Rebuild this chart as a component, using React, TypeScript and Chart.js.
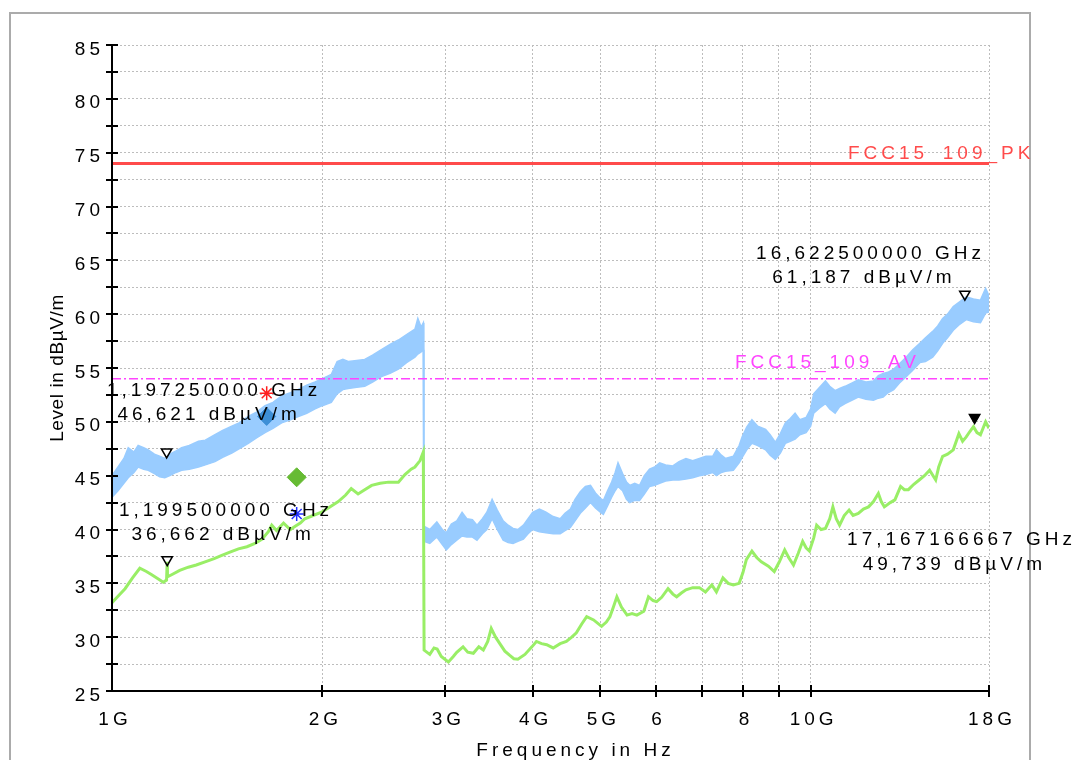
import React, { useEffect, useRef } from 'react';
import { Chart, registerables } from 'chart.js';

Chart.register(...registerables);

// ---------- axis ticks ----------
const xTickValues = [1, 2, 3, 4, 5, 6, 7, 8, 9, 10, 18];
const xTickLabels = ['1G', '2G', '3G', '4G', '5G', '6', '', '8', '', '10G', '18G'];
const yTickLabelValues = [25, 30, 35, 40, 45, 50, 55, 60, 65, 70, 75, 80, 85];

// ---------- peak trace (band: upper / lower envelope), GHz / dBµV/m ----------
const peakFreq = [
  1.0, 1.02, 1.04, 1.055, 1.075, 1.09, 1.11, 1.127, 1.15, 1.17, 1.19, 1.21, 1.235, 1.258, 1.29, 1.33, 1.36, 1.404,
  1.44, 1.484, 1.52, 1.567, 1.61, 1.656, 1.7, 1.749, 1.8, 1.848, 1.9, 1.953, 2.0, 2.06, 2.1, 2.14, 2.178, 2.24, 2.3,
  2.36, 2.43, 2.5, 2.57, 2.64, 2.714, 2.74, 2.77, 2.79, 2.795, 2.85, 2.917, 2.97, 3.01, 3.06, 3.115, 3.17, 3.22, 3.28,
  3.33, 3.39, 3.44, 3.5, 3.56, 3.63, 3.69, 3.75, 3.81, 3.88, 3.94, 4.0, 4.09, 4.18, 4.28, 4.38, 4.45, 4.53, 4.6, 4.68,
  4.76, 4.84, 4.92, 5.0, 5.05, 5.12, 5.19, 5.25, 5.3, 5.38, 5.45, 5.51, 5.6, 5.69, 5.78, 5.88, 5.98, 6.08, 6.2, 6.35,
  6.48, 6.63, 6.78, 6.93, 7.08, 7.24, 7.33, 7.45, 7.55, 7.75, 7.9, 7.98, 8.1, 8.24, 8.4, 8.62, 8.75, 8.9, 9.05, 9.2,
  9.35, 9.5, 9.65, 9.85, 10.0, 10.1, 10.3, 10.5, 10.65, 10.84, 11.0, 11.2, 11.45, 11.7, 12.0, 12.3, 12.5, 12.7, 12.9,
  13.15, 13.4, 13.7, 14.0, 14.33, 14.6, 14.95, 15.2, 15.45, 15.7, 16.0, 16.3, 16.7, 17.1, 17.5, 17.8, 18.0,
];
const peakHigh = [
  45.0, 45.8, 46.6, 47.6, 47.2, 47.8, 47.6, 47.4, 47.0, 46.8, 46.6, 47.0, 47.3, 47.6, 47.8, 48.2, 48.3, 48.8,
  49.2, 49.6, 49.9, 50.5, 50.9, 51.5, 51.8, 52.4, 52.7, 53.0, 53.4, 53.7, 54.0, 54.4, 55.6, 55.8, 55.6, 55.7, 55.8,
  56.2, 56.7, 57.2, 57.6, 58.1, 58.6, 59.6, 58.8, 59.2, 40.3, 40.0, 40.7, 40.0, 39.7, 40.5, 40.8, 41.6, 41.0, 40.9,
  40.4, 41.0, 41.6, 42.8, 41.8, 40.8, 40.4, 40.1, 40.0, 40.4, 41.0, 41.6, 41.9, 41.6, 41.2, 41.0, 41.5, 41.9, 42.8, 43.5,
  44.0, 44.1, 43.4, 42.9, 42.7, 43.6, 44.4, 45.3, 46.2, 45.2, 44.4, 44.1, 44.3, 44.1, 45.0, 45.6, 45.8, 46.2, 46.0, 45.9,
  46.3, 46.6, 46.4, 46.6, 46.8, 46.8, 47.4, 46.9, 46.6, 46.8, 47.8, 48.6, 49.5, 50.2, 49.6, 49.3, 48.8, 48.1, 48.9, 49.9,
  50.3, 50.8, 50.2, 50.4, 51.2, 52.6, 53.2, 53.8, 53.3, 52.9, 53.1, 53.3, 53.6, 53.9, 53.7, 53.8, 54.3, 54.5, 54.6,
  54.9, 55.4, 56.0, 56.7, 57.3, 57.8, 58.4, 58.9, 59.6, 60.0, 60.7, 61.1, 61.6, 61.4, 61.3, 62.4, 61.7,
];
const peakLow = [
  43.0, 43.6, 44.3, 44.8, 45.3, 45.8, 45.6, 45.5, 45.2, 44.9, 44.8, 45.0, 45.3, 45.5, 45.6, 45.8, 46.0, 46.3,
  46.7, 47.1, 47.5, 48.0, 48.5, 49.0, 49.4, 49.9, 50.2, 50.5, 50.8, 51.2, 51.5, 51.8, 52.6, 53.0, 53.1, 53.2, 53.3,
  53.7, 54.2, 54.5, 54.9, 55.5, 56.0, 56.3, 56.5, 56.7, 38.9, 38.7, 39.3, 38.6, 38.1, 38.6, 39.0, 39.4, 39.3, 39.3,
  39.0, 39.6, 40.0, 41.0, 40.0, 39.0, 38.8, 38.7, 38.9, 39.1, 39.6, 40.0, 39.8, 39.7, 39.6, 39.6, 39.9, 40.2, 40.8, 41.5,
  42.0, 42.5, 42.0, 41.6, 41.4, 42.2, 43.0, 43.6, 44.0, 43.6, 42.8, 42.5, 42.7, 42.7, 43.3, 44.0, 44.1, 44.3, 44.5, 44.6,
  44.6, 44.7, 44.8, 45.0, 45.1, 45.3, 45.0, 45.3, 45.4, 45.5, 46.2, 46.7, 47.4, 48.0, 47.8, 47.4, 46.9, 46.5, 47.1, 48.0,
  48.2, 48.4, 48.8, 49.0, 49.6, 50.8, 51.3, 51.7, 51.2, 50.8, 51.4, 51.7, 52.0, 52.3, 52.1, 52.0, 52.2, 52.3, 52.7,
  53.0, 53.6, 54.2, 54.8, 55.5, 55.6, 56.0, 56.6, 57.3, 57.8, 58.5, 59.0, 59.5, 59.3, 59.2, 60.1, 60.2,
];

// ---------- average trace ----------
const avgFreq = [
  1.0, 1.02, 1.044, 1.07, 1.096, 1.12, 1.14, 1.165, 1.184, 1.197, 1.1995, 1.2005, 1.217, 1.25, 1.286, 1.32, 1.359,
  1.4, 1.436, 1.475, 1.517, 1.56, 1.602, 1.64, 1.674, 1.693, 1.72, 1.76, 1.8, 1.829, 1.86, 1.888, 1.94, 1.995, 2.05,
  2.108, 2.16, 2.2, 2.25, 2.3, 2.353, 2.42, 2.487, 2.57, 2.626, 2.68, 2.714, 2.76, 2.79, 2.797, 2.85, 2.89, 2.92, 2.96,
  3.03, 3.08, 3.115, 3.18, 3.23, 3.29, 3.35, 3.4, 3.45, 3.49, 3.54, 3.59, 3.65, 3.71, 3.76, 3.81, 3.9, 3.99, 4.05,
  4.12, 4.19, 4.28, 4.38, 4.47, 4.55, 4.62, 4.7, 4.78, 4.89, 5.02, 5.1, 5.16, 5.22, 5.28, 5.36, 5.46, 5.55, 5.64, 5.77,
  5.86, 5.95, 6.02, 6.12, 6.25, 6.35, 6.43, 6.53, 6.63, 6.78, 6.93, 7.07, 7.22, 7.33, 7.49, 7.62, 7.75, 7.9, 8.0, 8.09,
  8.24, 8.37, 8.5, 8.7, 8.87, 9.02, 9.18, 9.3, 9.45, 9.6, 9.74, 9.85, 9.96, 10.1, 10.2, 10.35, 10.5, 10.65, 10.76,
  10.88, 11.0, 11.17, 11.35, 11.5, 11.7, 11.9, 12.1, 12.3, 12.5, 12.62, 12.75, 13.0, 13.2, 13.45, 13.62, 13.8, 14.05,
  14.3, 14.55, 14.8, 15.1, 15.25, 15.45, 15.7, 16.0, 16.3, 16.5, 16.7, 16.9, 17.1, 17.3, 17.5, 17.65, 17.8, 18.0,
];
const avgLevel = [
  33.2, 33.8, 34.5, 35.5, 36.4, 36.1, 35.8, 35.4, 35.1, 35.3, 37.0, 35.6, 35.8, 36.2, 36.5, 36.7, 37.0,
  37.3, 37.6, 37.9, 38.2, 38.4, 38.7, 39.1, 39.8, 40.4, 39.9, 40.6, 40.0, 40.3, 40.6, 41.0, 41.3, 41.6, 42.1,
  42.6, 43.2, 43.8, 43.3, 43.7, 44.1, 44.3, 44.4, 44.4, 45.1, 45.6, 45.8, 46.4, 47.2, 28.8, 28.4, 29.0, 28.9, 28.2,
  27.7, 28.2, 28.6, 29.1, 28.6, 28.5, 29.1, 28.8, 29.6, 30.8, 30.0, 29.4, 28.7, 28.3, 28.0, 27.95, 28.4, 29.1, 29.6,
  29.4, 29.3, 29.0, 29.4, 29.6, 30.0, 30.4, 31.2, 31.9, 31.6, 31.0, 31.4, 31.9, 32.8, 33.75, 32.8, 32.05, 32.2, 32.05, 32.4,
  33.75, 33.4, 33.3, 33.7, 34.5, 34.0, 33.75, 34.1, 34.4, 34.6, 34.6, 34.2, 34.85, 34.2, 35.5, 35.0, 34.85, 35.0, 36.0, 37.2,
  38.0, 37.4, 37.0, 36.6, 36.1, 37.0, 38.1, 37.4, 36.7, 37.8, 38.9, 38.3, 38.0, 39.2, 40.4, 40.0, 40.1, 41.0, 42.1,
  41.0, 40.4, 41.3, 41.8, 41.3, 41.5, 41.9, 42.1, 42.6, 43.35, 42.6, 42.1, 42.5, 42.75, 44.0, 43.7, 43.7, 44.2,
  44.6, 45.0, 45.5, 44.6, 45.8, 46.8, 47.0, 47.4, 48.9, 48.2, 48.6, 49.1, 49.55, 49.0, 48.8, 49.4, 50.0, 49.4,
];

// ---------- limit lines ----------
const limitFreq = [1, 18];
const pkLimit = [74, 74];
const avLimit = [54, 54];
const limitNames = ['FCC15_109_PK', 'FCC15_109_AV'];

// ---------- markers ----------
const peakMarkerFreq = [1.19725, 16.6225];
const peakMarkerLevel = [47.2, 61.85];
const avgMarkerFreq = [1.1995];
const avgMarkerLevel = [37.2];
const avgMaxFreq = [17.167166667];
const avgMaxLevel = [50.4];
const finalPkStarFreq = [1.665];
const finalPkStarLevel = [52.65];
const finalPkDiamondFreq = [1.665];
const finalPkDiamondLevel = [50.5];
const finalAvDiamondFreq = [1.838];
const finalAvDiamondLevel = [44.85];
const finalAvStarFreq = [1.838];
const finalAvStarLevel = [41.44];

// ---------- marker readouts (text, anchor in GHz / dB) ----------
const readoutTexts = [
  '1,197250000 GHz', '46,621 dBµV/m',
  '1,199500000 GHz', '36,662 dBµV/m',
  '16,622500000 GHz', '61,187 dBµV/m',
  '17,167166667 GHz', '49,739 dBµV/m',
];
const readoutFreq = [1.4, 1.377, 1.456, 1.442, 12.18, 11.92, 16.44, 16.06];
const readoutLevel = [52.4, 50.17, 41.3, 39.03, 65.12, 62.9, 38.56, 36.24];
const limitLabelFreq = [11.31, 7.79];
const limitLabelLevel = [74.41, 55.0];

const xTitle = 'Frequency in Hz';
const yTitle = 'Level in dBµV/m';

const pts = (xs: number[], ys: number[]) => xs.map((x, i) => ({ x, y: ys[i] }));

const FONT = '19px "Liberation Sans", Arial, sans-serif';

const decorPlugin = {
  id: 'decor',
  beforeDraw(chart: any) {
    const { ctx, width, height } = chart;
    ctx.save();
    ctx.fillStyle = '#ffffff';
    ctx.fillRect(0, 0, width, height);
    ctx.strokeStyle = '#ababab';
    ctx.lineWidth = 2;
    ctx.strokeRect(10, 13, 1020, 800);
    ctx.restore();
  },
  afterDraw(chart: any) {
    const { ctx, chartArea: a } = chart;
    const xs = chart.scales.x;
    const ys = chart.scales.y;
    ctx.save();
    // axes
    ctx.strokeStyle = '#000';
    ctx.lineWidth = 2;
    ctx.beginPath();
    ctx.moveTo(a.left, a.top);
    ctx.lineTo(a.left, a.bottom);
    ctx.lineTo(a.right, a.bottom);
    ctx.stroke();
    // y tick marks (crossing)
    ctx.beginPath();
    ys.ticks.forEach((t: any) => {
      const py = Math.round(ys.getPixelForValue(t.value));
      ctx.moveTo(a.left - 6, py);
      ctx.lineTo(a.left + 6, py);
    });
    // x tick marks (crossing)
    xs.ticks.forEach((t: any) => {
      if (t.value === xTickValues[0]) return;
      const px = Math.round(xs.getPixelForValue(t.value));
      ctx.moveTo(px, a.bottom - 6);
      ctx.lineTo(px, a.bottom + 6);
    });
    ctx.stroke();

    ctx.font = FONT;
    ctx.fillStyle = '#000';
    (ctx as any).letterSpacing = '4px';
    // y tick labels
    ctx.textAlign = 'right';
    ctx.textBaseline = 'alphabetic';
    yTickLabelValues.forEach((v) => {
      const py = ys.getPixelForValue(v);
      ctx.fillText(String(v), a.left - 8, py + 9.5);
    });
    // x tick labels
    ctx.textAlign = 'center';
    xTickValues.forEach((v, i) => {
      const px = xs.getPixelForValue(v);
      if (xTickLabels[i]) ctx.fillText(xTickLabels[i], px + 3, a.bottom + 34);
    });
    // x title
    ctx.fillText(xTitle, (a.left + a.right) / 2 + 25, a.bottom + 65);
    // y title
    ctx.save();
    (ctx as any).letterSpacing = '0.6px';
    ctx.translate(58, (a.top + a.bottom) / 2);
    ctx.rotate(-Math.PI / 2);
    ctx.textAlign = 'center';
    ctx.textBaseline = 'middle';
    ctx.fillText(yTitle, 0, 0);
    ctx.restore();

    // marker readouts
    (ctx as any).letterSpacing = '4px';
    ctx.textAlign = 'center';
    ctx.textBaseline = 'alphabetic';
    ctx.fillStyle = '#000';
    readoutTexts.forEach((txt, i) => {
      ctx.fillText(txt, xs.getPixelForValue(readoutFreq[i]), ys.getPixelForValue(readoutLevel[i]));
    });
    // limit labels
    ctx.textAlign = 'left';
    ctx.fillStyle = '#ff4b4b';
    ctx.fillText(limitNames[0], xs.getPixelForValue(limitLabelFreq[0]), ys.getPixelForValue(limitLabelLevel[0]));
    ctx.fillStyle = '#ff44ff';
    ctx.fillText(limitNames[1], xs.getPixelForValue(limitLabelFreq[1]), ys.getPixelForValue(limitLabelLevel[1]));
    ctx.restore();
  },
};

export default function App() {
  const canvasRef = useRef<HTMLCanvasElement | null>(null);

  useEffect(() => {
    const canvas = canvasRef.current;
    if (!canvas) return;
    const blue = '#99ccff';
    const green = '#99ee66';
    const chart = new Chart(canvas, {
      type: 'line',
      data: {
        datasets: [
          {
            label: 'peak-hi',
            data: pts(peakFreq, peakHigh),
            borderColor: blue,
            backgroundColor: blue,
            borderWidth: 1.5,
            pointRadius: 0,
            fill: '+1',
            order: 10,
          },
          {
            label: 'peak-lo',
            data: pts(peakFreq, peakLow),
            borderColor: blue,
            borderWidth: 1.5,
            pointRadius: 0,
            fill: false,
            order: 10,
          },
          {
            label: 'avg',
            data: pts(avgFreq, avgLevel),
            borderColor: green,
            borderWidth: 3,
            pointRadius: 0,
            fill: false,
            order: 8,
          },
          {
            label: 'AV limit',
            data: pts(limitFreq, avLimit),
            borderColor: '#ff44ff',
            borderWidth: 1.5,
            borderDash: [9, 3, 2, 3],
            pointRadius: 0,
            fill: false,
            order: 6,
          },
          {
            label: 'PK limit',
            data: pts(limitFreq, pkLimit),
            borderColor: '#ff4b4b',
            borderWidth: 3,
            pointRadius: 0,
            fill: false,
            order: 5,
          },
          {
            label: 'pk markers',
            data: pts(peakMarkerFreq, peakMarkerLevel),
            showLine: false,
            pointStyle: 'triangle',
            rotation: 180,
            pointRadius: 6,
            borderColor: '#000',
            backgroundColor: 'rgba(255,255,255,0)',
            borderWidth: 1.5,
            order: 1,
          },
          {
            label: 'av markers',
            data: pts(avgMarkerFreq, avgMarkerLevel),
            showLine: false,
            pointStyle: 'triangle',
            rotation: 180,
            pointRadius: 6,
            borderColor: '#000',
            backgroundColor: 'rgba(255,255,255,0)',
            borderWidth: 1.5,
            order: 1,
          },
          {
            label: 'av max',
            data: pts(avgMaxFreq, avgMaxLevel),
            showLine: false,
            pointStyle: 'triangle',
            rotation: 180,
            pointRadius: 6,
            borderColor: '#000',
            backgroundColor: '#000',
            borderWidth: 1.5,
            order: 1,
          },
          {
            label: 'final pk diamond',
            data: pts(finalPkDiamondFreq, finalPkDiamondLevel),
            showLine: false,
            pointStyle: 'rectRot',
            pointRadius: 9,
            borderColor: '#3d8fd6',
            backgroundColor: '#3d8fd6',
            borderWidth: 1,
            order: 2,
          },
          {
            label: 'final av diamond',
            data: pts(finalAvDiamondFreq, finalAvDiamondLevel),
            showLine: false,
            pointStyle: 'rectRot',
            pointRadius: 9.5,
            borderColor: '#66bb33',
            backgroundColor: '#66bb33',
            borderWidth: 1,
            order: 2,
          },
          {
            label: 'final pk star',
            data: pts(finalPkStarFreq, finalPkStarLevel),
            showLine: false,
            pointStyle: 'star',
            pointRadius: 7,
            borderColor: '#ff2020',
            borderWidth: 1.5,
            order: 1,
          },
          {
            label: 'final av star',
            data: pts(finalAvStarFreq, finalAvStarLevel),
            showLine: false,
            pointStyle: 'star',
            pointRadius: 7,
            borderColor: '#2030ff',
            borderWidth: 1.5,
            order: 1,
          },
        ],
      },
      options: {
        animation: false,
        responsive: true,
        maintainAspectRatio: false,
        parsing: true,
        layout: { padding: { left: 112, right: 86, top: 45, bottom: 69 } },
        plugins: { legend: { display: false }, tooltip: { enabled: false }, title: { display: false } },
        elements: { line: { tension: 0 } },
        scales: {
          x: {
            type: 'logarithmic',
            min: 1,
            max: 18,
            afterBuildTicks: (scale: any) => {
              scale.ticks = xTickValues.map((v) => ({ value: v }));
            },
            ticks: { display: false },
            grid: { color: '#bdbdbd', lineWidth: 1, drawTicks: false },
            border: { display: false, dash: [2, 2] },
          },
          y: {
            type: 'linear',
            min: 25,
            max: 85,
            ticks: { display: false, stepSize: 2.5 },
            grid: { color: '#bdbdbd', lineWidth: 1, drawTicks: false },
            border: { display: false, dash: [2, 2] },
          },
        },
      },
      plugins: [decorPlugin],
    } as any);
    return () => chart.destroy();
  }, []);

  return (
    <div style={{ position: 'absolute', left: 0, top: 0, width: 1075, height: 760 }}>
      <canvas ref={canvasRef} />
    </div>
  );
}
